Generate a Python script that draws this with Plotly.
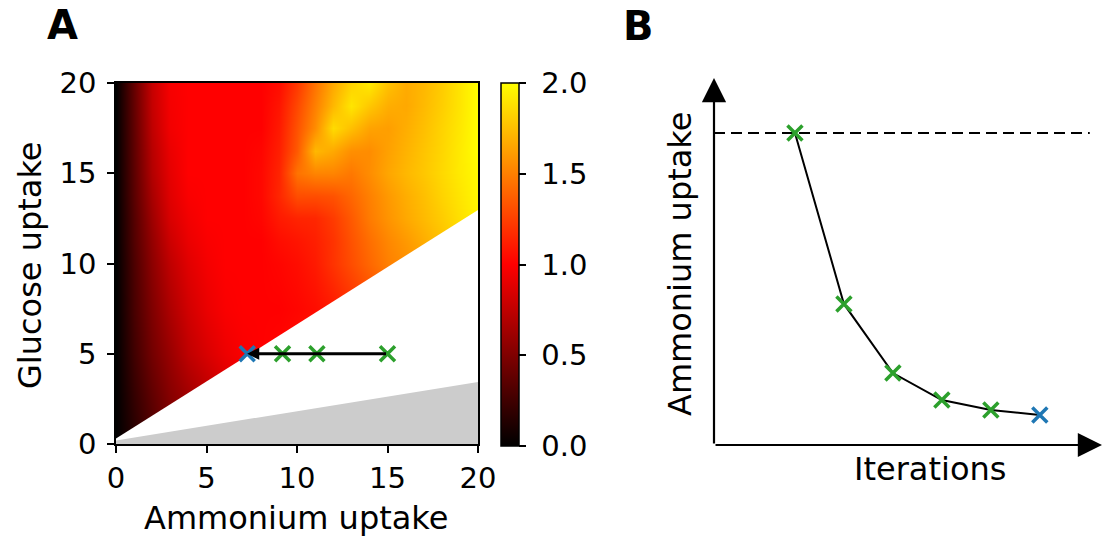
import plotly.graph_objects as go

W, H = 1107, 538

# ---------------- Panel A data ----------------
amm_grid = [0, 1, 2, 3, 4, 5, 6, 7, 8, 9, 10, 11, 12, 13, 14, 15, 16, 17, 18, 19, 20]
glc_grid = [0, 2.5, 5, 7.5, 10, 11.25, 12.5, 13.75, 15, 16.25, 17.5, 18.75, 20]
growth = [
    [0, 0.15, 0.30, 0.45, 0.55, 0.65, 0.75, 0.85, 0.92, 0.97, 1.00, 1.05, 1.10, 1.15, 1.20, 1.25, 1.30, 1.35, 1.40, 1.45, 1.50],
    [0, 0.20, 0.37, 0.52, 0.62, 0.72, 0.82, 0.90, 0.95, 1.00, 1.02, 1.07, 1.12, 1.17, 1.22, 1.27, 1.32, 1.37, 1.42, 1.47, 1.52],
    [0, 0.25, 0.45, 0.60, 0.75, 0.85, 0.93, 0.98, 1.00, 1.02, 1.05, 1.10, 1.15, 1.20, 1.25, 1.30, 1.35, 1.40, 1.45, 1.50, 1.55],
    [0, 0.28, 0.50, 0.68, 0.82, 0.92, 0.98, 1.00, 1.00, 1.00, 1.02, 1.05, 1.10, 1.18, 1.26, 1.34, 1.42, 1.50, 1.56, 1.62, 1.68],
    [0, 0.30, 0.55, 0.75, 0.88, 0.96, 1.00, 1.00, 1.00, 1.02, 1.05, 1.10, 1.20, 1.30, 1.40, 1.50, 1.56, 1.62, 1.70, 1.78, 1.86],
    [0, 0.32, 0.58, 0.80, 0.92, 0.98, 1.00, 1.00, 1.00, 1.05, 1.08, 1.12, 1.20, 1.32, 1.43, 1.53, 1.60, 1.68, 1.76, 1.84, 1.92],
    [0, 0.33, 0.62, 0.85, 0.95, 1.00, 1.00, 1.00, 1.02, 1.10, 1.14, 1.15, 1.23, 1.35, 1.48, 1.58, 1.66, 1.73, 1.80, 1.88, 1.95],
    [0, 0.35, 0.66, 0.88, 0.98, 1.00, 1.00, 1.00, 1.03, 1.15, 1.30, 1.30, 1.32, 1.40, 1.50, 1.60, 1.68, 1.75, 1.83, 1.90, 1.97],
    [0, 0.36, 0.70, 0.90, 1.00, 1.00, 1.00, 1.00, 1.03, 1.14, 1.45, 1.52, 1.52, 1.47, 1.55, 1.65, 1.72, 1.78, 1.85, 1.92, 1.98],
    [0, 0.37, 0.72, 0.92, 1.00, 1.00, 1.00, 1.00, 1.02, 1.12, 1.35, 1.72, 1.66, 1.56, 1.55, 1.63, 1.70, 1.77, 1.84, 1.92, 2.00],
    [0, 0.38, 0.75, 0.95, 1.00, 1.00, 1.00, 1.00, 1.00, 1.10, 1.32, 1.55, 1.86, 1.75, 1.64, 1.62, 1.68, 1.75, 1.83, 1.91, 2.00],
    [0, 0.39, 0.77, 0.96, 1.00, 1.00, 1.00, 1.00, 1.00, 1.08, 1.28, 1.50, 1.72, 1.90, 1.78, 1.68, 1.66, 1.73, 1.81, 1.90, 2.00],
    [0, 0.40, 0.78, 0.97, 1.00, 1.00, 1.00, 1.00, 1.00, 1.05, 1.22, 1.45, 1.66, 1.82, 1.92, 1.76, 1.67, 1.72, 1.80, 1.90, 2.00],
]
# feasibility boundary (upper edge of white region) and lower grey region edge
feas_amm = [0, 20]
feas_glc = [0.3, 12.97]
grey_amm = [0, 20]
grey_glc = [0.2, 3.43]

# iteration points in panel A
iter_amm = [15.0, 11.1, 9.2, 7.25]
iter_glc = [5, 5, 5, 5]

# ---------------- Panel B data ----------------
iterations = [1, 2, 3, 4, 5, 6]
amm_uptake = [15.0, 6.78, 3.46, 2.16, 1.68, 1.44]
max_uptake = 15.0

GREEN = "#2ca02c"
BLUE = "#1f77b4"
FONT = "DejaVu Sans"
TICK = 29
LABEL = 32
NB = "\u00a0"

fig = go.Figure()

fig.add_trace(go.Heatmap(
    x=amm_grid, y=glc_grid, z=growth, zmin=0, zmax=2, zsmooth="best",
    colorscale=[[0, "#000000"], [0.5, "#ff0000"], [1, "#ffff00"]],
    xaxis="x", yaxis="y", hoverinfo="skip",
    colorbar=dict(
        x=501 / W, xanchor="left", xpad=0, ypad=0,
        y=1 - 83 / H, yanchor="top", len=363 / H, lenmode="fraction",
        thickness=18, outlinewidth=1.5, outlinecolor="black",
        tickvals=[0, 0.5, 1.0, 1.5, 2.0],
        ticktext=[NB + "0.0", NB + "0.5", NB + "1.0", NB + "1.5", NB + "2.0"],
        ticks="outside", ticklen=7, tickwidth=1.5, tickcolor="black",
        tickfont=dict(family=FONT, size=TICK, color="black"),
    ),
))

# white infeasible region
wx = [feas_amm[0], feas_amm[1], feas_amm[1], feas_amm[0]]
wy = [feas_glc[0], feas_glc[1], 0, 0]
fig.add_trace(go.Scatter(x=wx, y=wy, fill="toself", fillcolor="white",
                         mode="lines", line=dict(width=0, color="white"),
                         xaxis="x", yaxis="y", hoverinfo="skip", showlegend=False))
# grey region
gx = [grey_amm[0], grey_amm[1], grey_amm[1], grey_amm[0]]
gy = [grey_glc[0], grey_glc[1], 0, 0]
fig.add_trace(go.Scatter(x=gx, y=gy, fill="toself", fillcolor="#cccccc",
                         mode="lines", line=dict(width=0, color="#cccccc"),
                         xaxis="x", yaxis="y", hoverinfo="skip", showlegend=False))

# points in panel A
fig.add_trace(go.Scatter(x=iter_amm[:-1], y=iter_glc[:-1], mode="markers",
                         marker=dict(symbol="x-thin", size=15, line=dict(width=3.5, color=GREEN)),
                         xaxis="x", yaxis="y", showlegend=False))
fig.add_trace(go.Scatter(x=iter_amm[-1:], y=iter_glc[-1:], mode="markers",
                         marker=dict(symbol="x-thin", size=15, line=dict(width=3.5, color=BLUE)),
                         xaxis="x", yaxis="y", showlegend=False))

# Panel B
fig.add_trace(go.Scatter(x=[-0.653, 7.02], y=[max_uptake, max_uptake], mode="lines",
                         line=dict(color="black", width=2, dash="11px,6px"),
                         xaxis="x2", yaxis="y2", showlegend=False))
fig.add_trace(go.Scatter(x=iterations, y=amm_uptake, mode="lines",
                         line=dict(color="black", width=2),
                         xaxis="x2", yaxis="y2", showlegend=False))
fig.add_trace(go.Scatter(x=iterations[:-1], y=amm_uptake[:-1], mode="markers",
                         marker=dict(symbol="x-thin", size=15, line=dict(width=3.5, color=GREEN)),
                         xaxis="x2", yaxis="y2", showlegend=False))
fig.add_trace(go.Scatter(x=iterations[-1:], y=amm_uptake[-1:], mode="markers",
                         marker=dict(symbol="x-thin", size=15, line=dict(width=3.5, color=BLUE)),
                         xaxis="x2", yaxis="y2", showlegend=False))

axis_common = dict(showgrid=False, zeroline=False, showline=True, mirror=True,
                   linecolor="black", linewidth=1.5, ticks="outside", ticklen=7,
                   tickwidth=1.5, tickcolor="black", automargin=False,
                   tickfont=dict(family=FONT, size=TICK, color="black"))

fig.update_layout(
    width=W, height=H, margin=dict(l=0, r=0, t=0, b=0, autoexpand=False),
    paper_bgcolor="white", plot_bgcolor="white", showlegend=False,
    xaxis=dict(domain=[116 / W, 478 / W], range=[0, 20], tickvals=[0, 5, 10, 15, 20],
               anchor="y", **axis_common),
    yaxis=dict(domain=[1 - 444 / H, 1 - 83 / H], range=[0, 20], tickvals=[0, 5, 10, 15, 20],
               anchor="x", ticklabelstandoff=5, **axis_common),
    xaxis2=dict(domain=[714 / W, 1102 / W], range=[-0.653, 7.27], visible=False, anchor="y2"),
    yaxis2=dict(domain=[1 - 445 / H, 1 - 78 / H], range=[0, 17.64], visible=False, anchor="x2"),
)

ann = []
# arrow in panel A
ann.append(dict(x=iter_amm[-1], y=iter_glc[-1], ax=iter_amm[0], ay=iter_glc[0],
                xref="x", yref="y", axref="x", ayref="y", text="", showarrow=True,
                arrowhead=2, arrowsize=0.8, arrowwidth=3, arrowcolor="black", standoff=0))
# axes arrows in panel B
ann.append(dict(x=7.27, y=0, ax=-0.653, ay=0, xref="x2", yref="y2", axref="x2", ayref="y2",
                text="", showarrow=True, arrowhead=2, arrowsize=2.2, arrowwidth=2.2,
                arrowcolor="black", standoff=0))
ann.append(dict(x=-0.653, y=17.64, ax=-0.653, ay=0, xref="x2", yref="y2", axref="x2", ayref="y2",
                text="", showarrow=True, arrowhead=2, arrowsize=2.2, arrowwidth=2.2,
                arrowcolor="black", standoff=0))

def txt(s, px, py, size=LABEL, angle=0, bold=False):
    return dict(text=f"<b>{s}</b>" if bold else s, x=px / W, y=1 - py / H,
                xref="paper", yref="paper", xanchor="center", yanchor="middle",
                showarrow=False, textangle=angle,
                font=dict(family=FONT, size=size, color="black"))

ann.append(txt("Ammonium uptake", 296, 518))
ann.append(txt("Glucose uptake", 30, 265, angle=-90))
ann.append(txt("Ammonium uptake", 680, 264, angle=-90))
ann.append(txt("Iterations", 930, 469))
ann.append(txt("A", 62, 25, size=40, bold=True))
ann.append(txt("B", 638, 26, size=40, bold=True))

fig.update_layout(annotations=ann)

fig.write_html("out.html", config={"displayModeBar": False},
               post_script="document.body.style.margin='0px';")
